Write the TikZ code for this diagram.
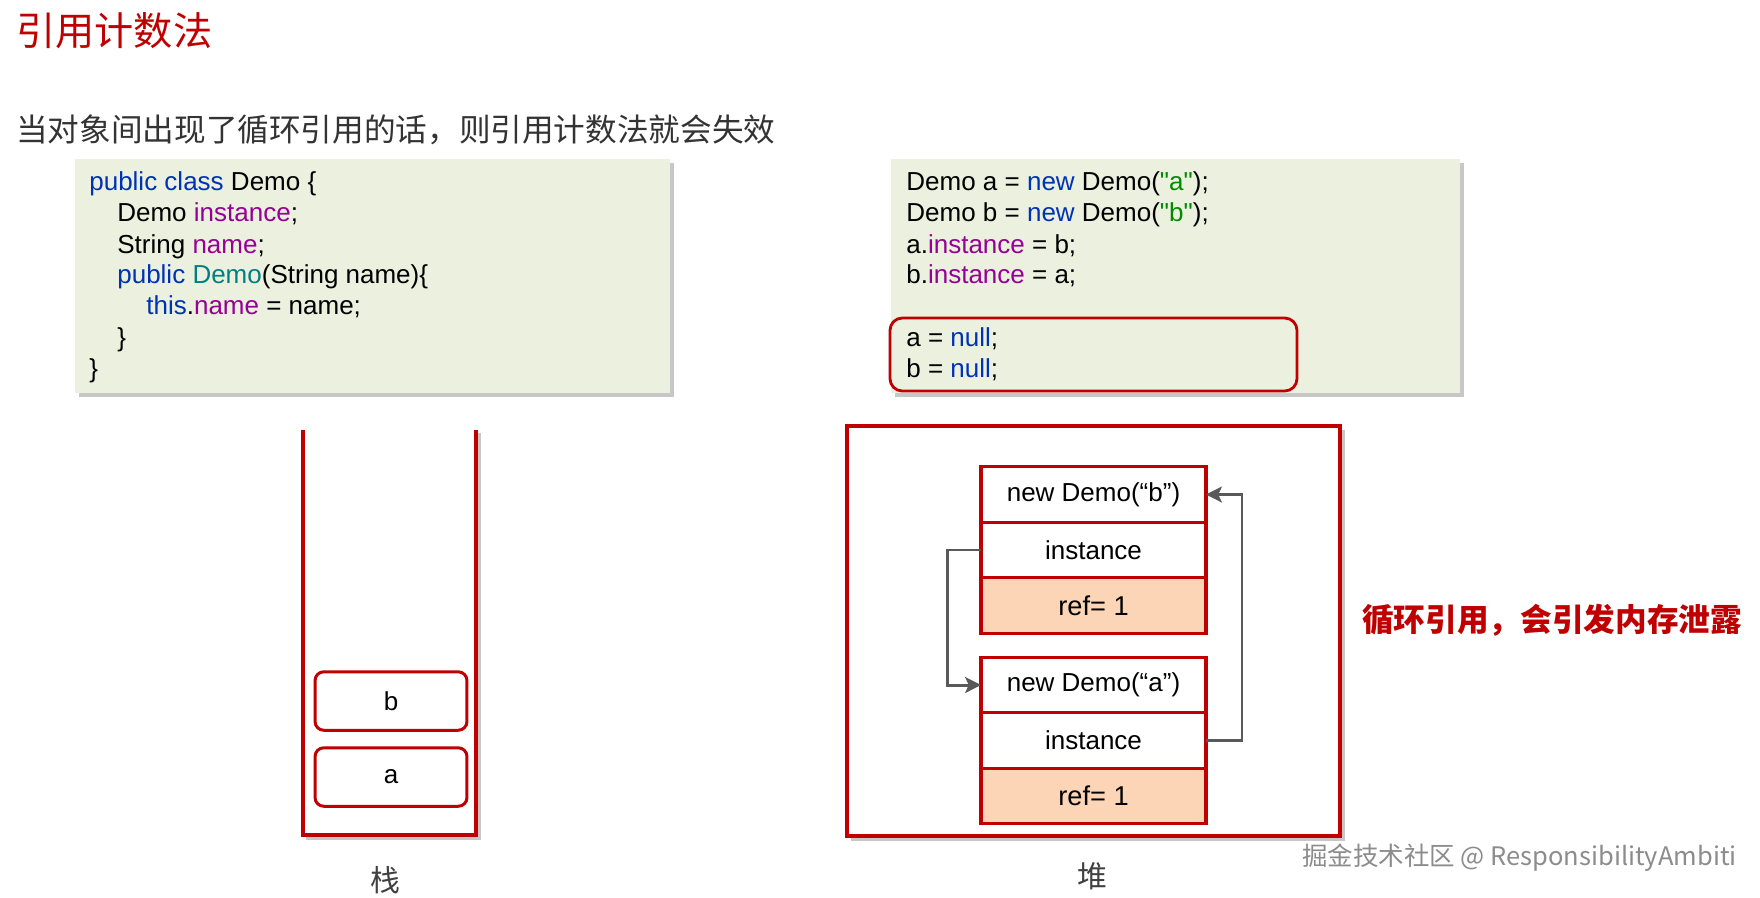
\documentclass[tikz,border=0pt]{standalone}
\usepackage{fontspec}
\setmainfont{Liberation Sans}[Ligatures=TeXOff]
\newfontfamily\cjk{Noto Sans CJK SC}
\usetikzlibrary{positioning,arrows.meta}

\definecolor{slidered}{RGB}{192,0,0}
\definecolor{codebg}{RGB}{236,240,222}
\definecolor{kwblue}{RGB}{0,51,179}
\definecolor{fieldpurple}{RGB}{150,0,150}
\definecolor{ctorteal}{RGB}{0,128,128}
\definecolor{strgreen}{RGB}{0,140,0}
\definecolor{refpeach}{RGB}{251,213,181}
\definecolor{arrowgray}{RGB}{89,89,89}

\newcommand{\codekw}[1]{\textcolor{kwblue}{#1}}
\newcommand{\codefd}[1]{\textcolor{fieldpurple}{#1}}
\newcommand{\codect}[1]{\textcolor{ctorteal}{#1}}
\newcommand{\codestr}[1]{\textcolor{strgreen}{#1}}

\begin{document}
\begin{tikzpicture}[x=0.02cm,y=-0.02cm,node distance=0pt,
    code/.style={anchor=west,inner sep=0pt,font=\fontsize{14.8}{17}\selectfont,
      text height=0.72em,text depth=0.2em},
    boxshadow/.style={fill=black!22},
    cell/.style={draw=slidered,line width=1.8pt,fill=white,minimum width=4.5cm,
      minimum height=1.11cm,inner sep=0pt,outer sep=0pt,font=\fontsize{14.8}{17}\selectfont},
    refcell/.style={cell,fill=refpeach,font=\fontsize{15.5}{18}\selectfont},
    slot/.style={draw=slidered,line width=1.7pt,rounded corners=5pt,minimum width=3.04cm,
      minimum height=1.17cm,inner sep=0pt,font=\fontsize{14.8}{17}\selectfont},
    area/.style={inner sep=0pt,text=black!75,font=\cjk\fontsize{17}{20}\selectfont},
    link/.style={draw=arrowgray,line width=1.7pt,-{Stealth[length=9pt,width=9pt,inset=2pt]}}]

    \useasboundingbox[fill=white] (0,0) rectangle (1760,897);

    % headings
    \node[anchor=west,inner sep=0pt,text=slidered,font=\cjk\fontsize{22.3}{26}\selectfont]
      (title) at (16,31) {引用计数法};
    \node[anchor=west,inner sep=0pt,text=black!80,font=\cjk\fontsize{18}{22}\selectfont]
      (intro) at (16,130) {当对象间出现了循环引用的话，则引用计数法就会失效};

    % code panels
    \fill[boxshadow] (79,163) rectangle (674,397);
    \fill[codebg] (75,159) rectangle (670,393);
    \fill[boxshadow] (895,163) rectangle (1464,397);
    \fill[codebg] (891,159) rectangle (1460,393);

    \node[code] (cls)    at (89,186)  {\codekw{public class} Demo \{};
    \node[code] (fld1)   at (117,217) {Demo \codefd{instance};};
    \node[code] (fld2)   at (117,249) {String \codefd{name};};
    \node[code] (ctor)   at (117,279) {\codekw{public} \codect{Demo}(String name)\{};
    \node[code] (body)   at (146,310) {\codekw{this}.\codefd{name} = name;};
    \node[code] (ctorend) at (117,342) {\}};
    \node[code] (clsend) at (89,373)  {\}};

    \node[code] (newa)  at (906,186) {Demo a = \codekw{new} Demo(\codestr{"a"});};
    \node[code] (newb)  at (906,217) {Demo b = \codekw{new} Demo(\codestr{"b"});};
    \node[code] (seta)  at (906,249) {a.\codefd{instance} = b;};
    \node[code] (setb)  at (906,279) {b.\codefd{instance} = a;};
    \node[code] (nulla) at (906,342) {a = \codekw{null};};
    \node[code] (nullb) at (906,373) {b = \codekw{null};};
    \draw[slidered,line width=1.6pt,rounded corners=7pt] (890,318) rectangle (1297,391);

    % stack
    \draw[black!22,line width=2pt] (479,433) -- (479,838) -- (306,838);
    \draw[slidered,line width=2pt] (303,430) -- (303,835) -- (476,835) -- (476,430);
    \node[slot] (slotb) at (391,701) {b};
    \node[slot] (slota) at (391,777) {a};
    \node[area] (stack) at (385,880) {栈};

    % heap
    \draw[black!22,line width=2.5pt] (1343,430) -- (1343,839) -- (851,839);
    \draw[slidered,line width=2pt] (847,426) rectangle (1340,836);
    \node[cell] (bhead) at (1093.5,494.5) {new Demo(“b”)};
    \node[cell,below=of bhead] (binst) {instance};
    \node[refcell,below=of binst] (bref) {ref= 1};
    \node[cell] (ahead) at (1093.5,685) {new Demo(“a”)};
    \node[cell,below=of ahead] (ainst) {instance};
    \node[refcell,below=of ainst] (aref) {ref= 1};
    \node[area] (heap) at (1092,876) {堆};

    \draw[link] (binst.west) -- ++(-34,0) |- (ahead.west);
    \draw[link] (ainst.east) -- ++(36,0) |- (bhead.east);

    % notes
    \node[anchor=west,inner sep=0pt,text=slidered,font=\cjk\bfseries\fontsize{18}{22}\selectfont]
      (leak) at (1362,620) {循环引用，会引发内存泄露};
    \node[anchor=west,inner sep=0pt,text=black!45,font=\cjk\fontsize{14.5}{17}\selectfont]
      (mark) at (1302,858) {掘金技术社区 @ ResponsibilityAmbiti};
\end{tikzpicture}
\end{document}
